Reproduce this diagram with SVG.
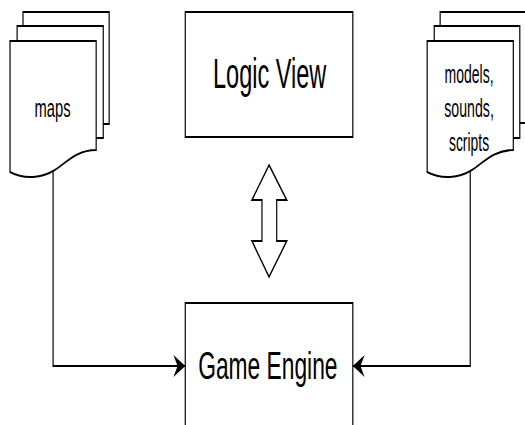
<svg xmlns="http://www.w3.org/2000/svg" width="525" height="425" viewBox="0 0 525 425">
  <style>
    .shape { fill: #ffffff; stroke: #000000; stroke-width: 2; }
    .edge { fill: none; stroke: #000000; stroke-width: 2; }
    .label { font-family: "Liberation Sans", Arial, sans-serif; fill: #000000; text-anchor: middle; }
  </style>
  <defs>
    <marker id="arrow" markerUnits="userSpaceOnUse" markerWidth="22" markerHeight="24" refX="20" refY="11" orient="auto" viewBox="0 0 22 24">
      <path d="M0,0 L20,11 L0,22 L7,11 Z" fill="#000000"/>
    </marker>
  </defs>
  <rect x="0" y="0" width="525" height="425" fill="#ffffff"/>
  <g transform="scale(0.59 1)">
    <g id="maps">
      <rect class="shape" x="39" y="12" width="146" height="112"/>
      <rect class="shape" x="29" y="26" width="146" height="112"/>
      <path class="shape" d="M17,41 H163 V150 C129,150 112,163 93,170 C71,178 42,180 17,172 Z"/>
      <text class="label" x="89" y="117" font-size="26" textLength="61" lengthAdjust="spacingAndGlyphs">maps</text>
    </g>
    <g id="assets">
      <rect class="shape" x="746" y="12" width="146" height="111"/>
      <rect class="shape" x="736" y="26" width="145" height="112"/>
      <path class="shape" d="M724,41 H870 V150 C836,150 819,163 800,170 C778,178 749,180 724,172 Z"/>
      <text class="label" x="795" y="83" font-size="25" textLength="83" lengthAdjust="spacingAndGlyphs">models,</text>
      <text class="label" x="795" y="117" font-size="25" textLength="84" lengthAdjust="spacingAndGlyphs">sounds,</text>
      <text class="label" x="795" y="151" font-size="25" textLength="68" lengthAdjust="spacingAndGlyphs">scripts</text>
    </g>
    <g id="logic-view">
      <rect class="shape" x="314" y="12" width="284" height="125"/>
      <text class="label" x="457" y="88" font-size="42" textLength="192" lengthAdjust="spacingAndGlyphs">Logic View</text>
    </g>
    <g id="game-engine">
      <rect class="shape" x="314" y="303" width="284" height="140"/>
      <text class="label" x="454" y="379" font-size="39" textLength="236" lengthAdjust="spacingAndGlyphs">Game Engine</text>
    </g>
    <g id="connectors">
      <path class="shape" d="M456,165 L486,200 L469,200 L469,241 L486,241 L456,277 L427,241 L444,241 L444,200 L427,200 Z"/>
      <path class="edge" d="M90,172 V366 H314" marker-end="url(#arrow)"/>
      <path class="edge" d="M797,172 V366 H598" marker-end="url(#arrow)"/>
    </g>
  </g>
</svg>
